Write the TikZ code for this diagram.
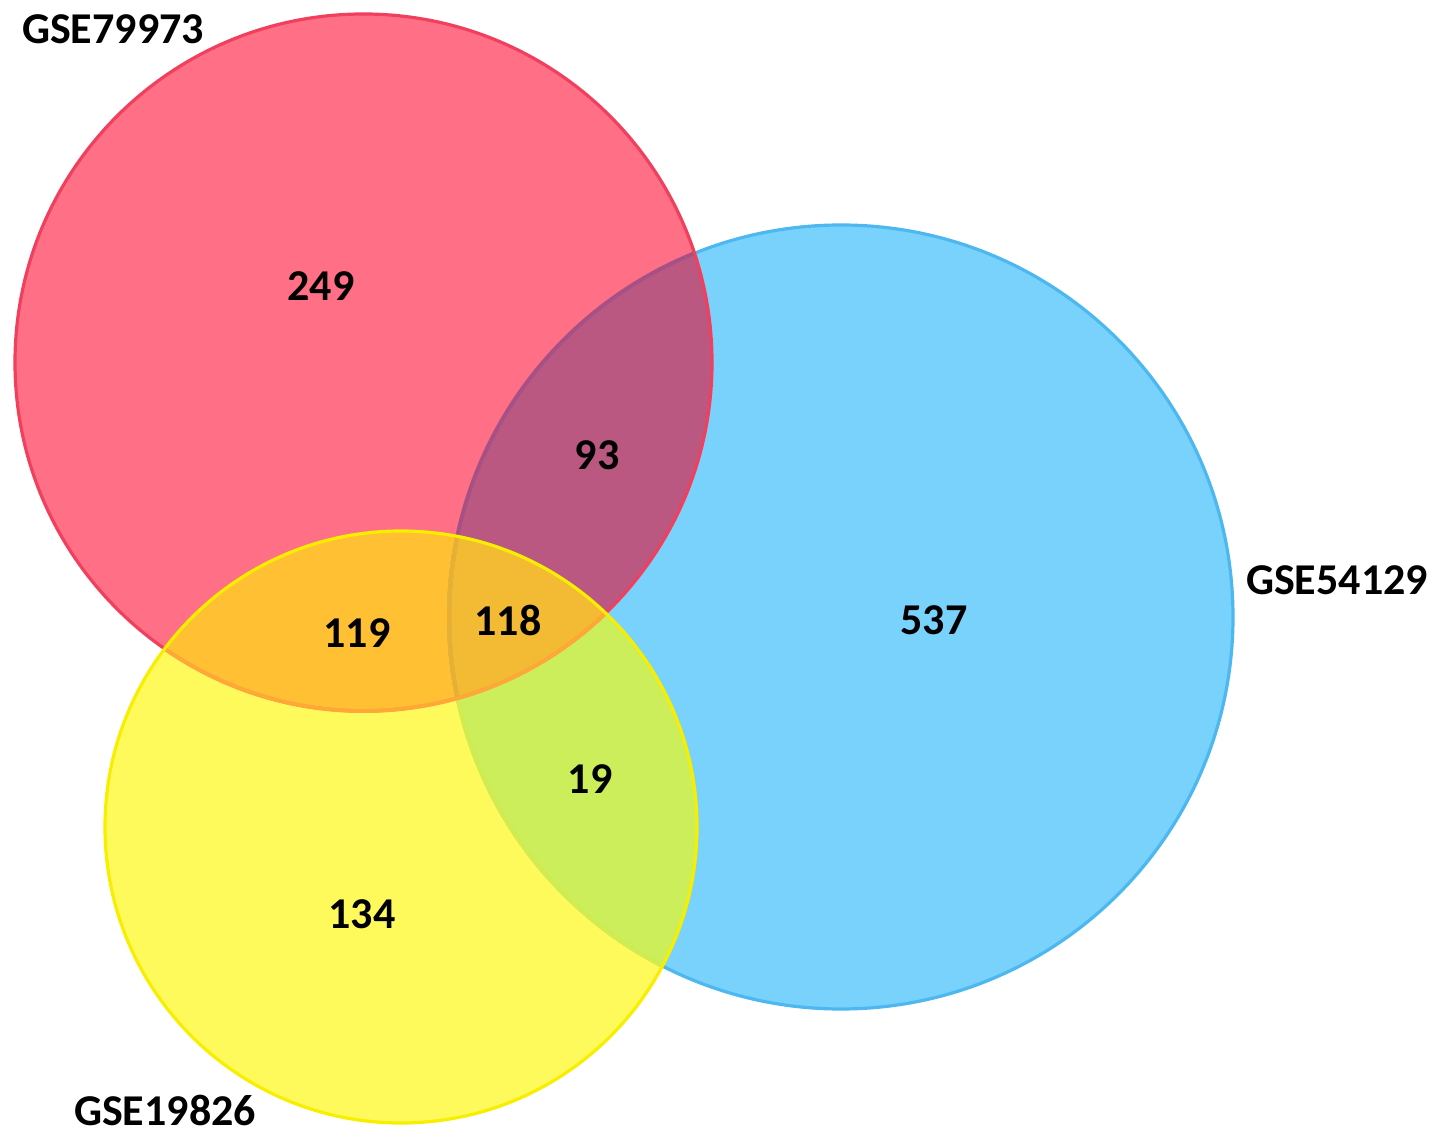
\documentclass[tikz,border=0pt]{standalone}
\usepackage{fontspec}
\setmainfont{Carlito}
\definecolor{cR}{HTML}{FF6F86}
\definecolor{cB}{HTML}{78D2FC}
\definecolor{cY}{HTML}{FFFA5C}
\definecolor{cRB}{HTML}{BA5882}
\definecolor{cRY}{HTML}{FFC133}
\definecolor{cBY}{HTML}{CBEE5A}
\definecolor{cRBY}{HTML}{F2BB33}
\definecolor{eR}{HTML}{F0405E}
\definecolor{eB}{HTML}{4DB8F0}
\definecolor{eY}{HTML}{F8EE00}
\definecolor{eBinR}{HTML}{A85084}
\definecolor{eRinY}{HTML}{FFA838}
\definecolor{eBinY}{HTML}{D2EC50}
\definecolor{eBinRY}{HTML}{E8B030}
\begin{document}
\begin{tikzpicture}[x=0.5pt,y=-0.5pt,
  lab/.style={font=\fontsize{22}{26}\selectfont\bfseries, text=black, inner sep=0pt},
  edge/.style={line width=1.6pt}]
\useasboundingbox (0,0) rectangle (1441,1143);
\fill[white] (0,0) rectangle (1441,1143);
\coordinate (R) at (363.5,362.5);
\coordinate (B) at (841,617);
\coordinate (Y) at (401,827);
\def\rR{174.25pt}
\def\rB{196pt}
\def\rY{148pt}
% base fills
\fill[cB] (B) circle[radius=\rB];
\fill[cR] (R) circle[radius=\rR];
\fill[cY] (Y) circle[radius=\rY];
% pairwise overlaps
\begin{scope}\clip (R) circle[radius=\rR]; \fill[cRB] (B) circle[radius=\rB];\end{scope}
\begin{scope}\clip (R) circle[radius=\rR]; \fill[cRY] (Y) circle[radius=\rY];\end{scope}
\begin{scope}\clip (B) circle[radius=\rB]; \fill[cBY] (Y) circle[radius=\rY];\end{scope}
\begin{scope}\clip (R) circle[radius=\rR]; \clip (B) circle[radius=\rB]; \fill[cRBY] (Y) circle[radius=\rY];\end{scope}
% edges
\draw[edge, eB] (B) circle[radius=\rB];
\begin{scope}\clip (R) circle[radius=\rR]; \draw[line width=2pt, eBinR] (B) circle[radius=\rB];\end{scope}
\begin{scope}\clip (Y) circle[radius=\rY]; \draw[line width=2pt, eBinY] (B) circle[radius=\rB];\end{scope}
\begin{scope}\clip (Y) circle[radius=\rY]; \clip (R) circle[radius=\rR]; \draw[line width=2pt, eBinRY] (B) circle[radius=\rB];\end{scope}
\draw[edge, eR] (R) circle[radius=\rR];
\begin{scope}\clip (Y) circle[radius=\rY]; \draw[line width=2pt, eRinY] (R) circle[radius=\rR];\end{scope}
\draw[edge, eY] (Y) circle[radius=\rY];
% labels
\node[lab] (nR) at (113,29) {GSE79973};
\node[lab] (nB) at (1337,580) {GSE54129};
\node[lab] (nY) at (165,1110) {GSE19826};
\node[lab] (n249) at (321,286) {249};
\node[lab] (n93) at (597,455) {93};
\node[lab] (n537) at (934,620) {537};
\node[lab] (n119) at (357,633) {119};
\node[lab] (n118) at (508,620) {118};
\node[lab] (n19) at (590,779) {19};
\node[lab] (n134) at (362,914) {134};
\end{tikzpicture}
\end{document}
